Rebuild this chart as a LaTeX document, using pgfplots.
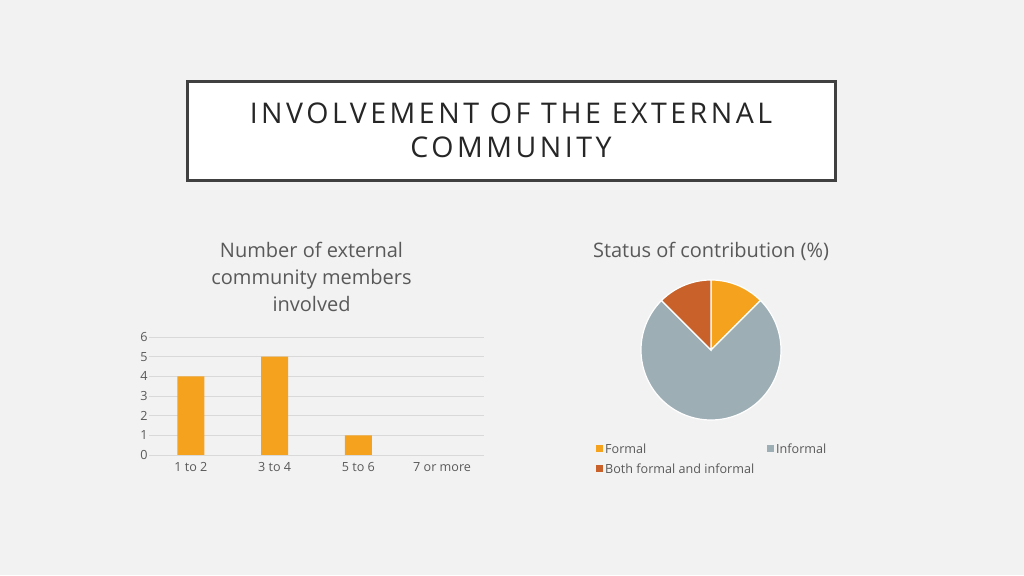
\documentclass[border=0pt]{standalone}
\usepackage{fontspec}
\setmainfont{Open Sans}
\newfontfamily\titlefont[LetterSpace=12.3]{Open Sans}
\usepackage{pgfplots}
\pgfplotsset{compat=1.18}
\usepgfplotslibrary{polar}
\definecolor{bg}{HTML}{F2F2F2}
\definecolor{barorange}{HTML}{F5A31F}
\definecolor{pgray}{HTML}{9DAEB5}
\definecolor{prust}{HTML}{C8622A}
\definecolor{txt}{HTML}{595959}
\definecolor{gridc}{HTML}{D9D9D9}
\definecolor{boxc}{HTML}{404040}
\definecolor{ttl}{HTML}{262626}
\begin{document}
\begin{tikzpicture}[x=1pt,y=1pt]
\fill[bg] (0,0) rectangle (1024,575);
% title box
\draw[boxc, line width=3pt, fill=white] (187.5,493.5) rectangle (835.5,394.5);
\node[anchor=base, inner sep=0, text=ttl, font=\titlefont\fontsize{28.5}{34}\selectfont] at (511,451.5) {INVOLVEMENT OF THE EXTERNAL};
\node[anchor=base, inner sep=0, text=ttl, font=\titlefont\fontsize{28.5}{34}\selectfont] at (511,417.5) {COMMUNITY};
% chart titles
\node[anchor=base, inner sep=0, text=txt, font=\fontsize{20}{24}\selectfont] at (311.5,317.5) {Number of external};
\node[anchor=base, inner sep=0, text=txt, font=\fontsize{20}{24}\selectfont] at (311.5,290.5) {community members};
\node[anchor=base, inner sep=0, text=txt, font=\fontsize{20}{24}\selectfont] at (311.5,263.5) {involved};
\node[anchor=base, inner sep=0, text=txt, font=\fontsize{20}{24}\selectfont] at (711,317.5) {Status of contribution (\%)};
% bar chart
\begin{axis}[at={(149pt,120pt)}, anchor=south west, scale only axis,
  width=335pt, height=118pt,
  xmin=-0.5, xmax=3.5, ymin=0, ymax=6,
  ytick={0,1,2,3,4,5,6},
  xtick={0,1,2,3},
  xticklabels={1 to 2,3 to 4,5 to 6,7 or more},
  ymajorgrids, grid style={gridc, line width=0.75pt},
  axis line style={draw=none}, major tick length=0pt,
  ticklabel style={font=\fontsize{12.6}{15}\selectfont, text=txt},
  xticklabel style={yshift=-4pt},
  yticklabel style={xshift=2pt},
  /pgf/number format/assume math mode=true,
  restrict y to domain=0.01:100,
  ybar, bar width=27pt, clip=false]
\addplot[fill=barorange, draw=none] coordinates {(0,4) (1,5) (2,1) (3,0)};
\end{axis}
% pie chart (shares in percent)
\def\sFormal{12.5}
\def\sInformal{75}
\def\sBoth{12.5}
\pgfmathsetmacro\aA{90}
\pgfmathsetmacro\aB{90-3.6*\sFormal}
\pgfmathsetmacro\aC{\aB-3.6*\sInformal}
\pgfmathsetmacro\aD{\aC-3.6*\sBoth}
\begin{polaraxis}[at={(711pt,225pt)}, anchor=center, scale only axis,
  width=140pt, height=140pt, hide axis, ymin=0, ymax=1, clip=false]
\addplot[fill=barorange, draw=white, line width=1.2pt, domain=\aB:\aA, samples=40] {1} -- (axis cs:0,0) -- cycle;
\addplot[fill=pgray, draw=white, line width=1.2pt, domain=\aC:\aB, samples=200] {1} -- (axis cs:0,0) -- cycle;
\addplot[fill=prust, draw=white, line width=1.2pt, domain=\aD:\aC, samples=40] {1} -- (axis cs:0,0) -- cycle;
\end{polaraxis}
% pie legend
\fill[barorange] (596,123) rectangle (602.5,129.5);
\node[anchor=base west, inner sep=0, text=txt, font=\fontsize{12.6}{15}\selectfont] at (605,121.5) {Formal};
\fill[pgray] (767,123) rectangle (773.5,129.5);
\node[anchor=base west, inner sep=0, text=txt, font=\fontsize{12.6}{15}\selectfont] at (776,121.5) {Informal};
\fill[prust] (596,103) rectangle (602.5,109.5);
\node[anchor=base west, inner sep=0, text=txt, font=\fontsize{12.6}{15}\selectfont] at (605,101.5) {Both formal and informal};
\end{tikzpicture}
\end{document}
